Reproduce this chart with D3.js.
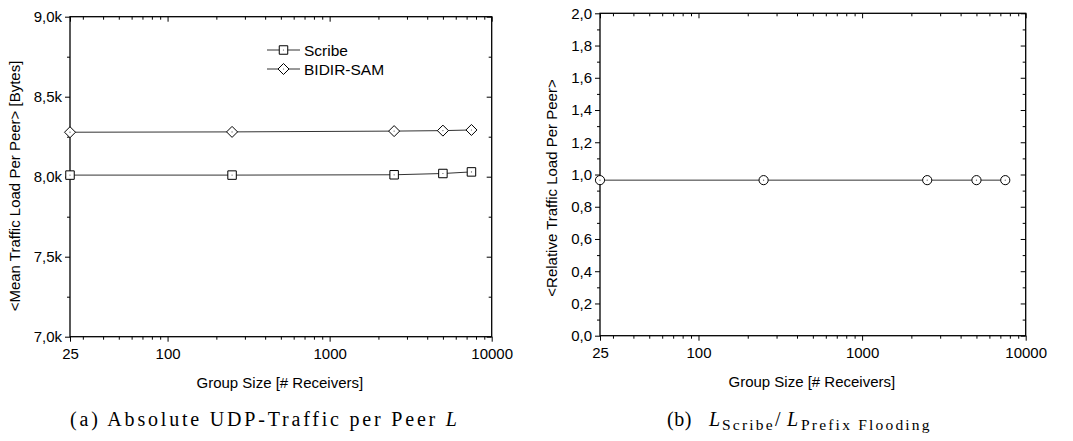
<!DOCTYPE html>
<html><head><meta charset="utf-8">
<script src="https://cdn.jsdelivr.net/npm/d3@7"></script>
<style>body{margin:0;background:#fff} svg{display:block}</style>
</head><body><svg id="c" width="1073" height="441"></svg>
<script>
// ---- data ----
const groupSizes = [25, 250, 2500, 5000, 7500];
const scribeLoad = [8010, 8010, 8012, 8020, 8030];
const bidirSamLoad = [8278, 8280, 8285, 8288, 8292];
const relativeLoad = [0.965, 0.965, 0.965, 0.965, 0.965];
const xMajorTicks = [25, 100, 1000, 10000];
const xMinorTicks = [30,40,50,60,70,80,90,200,300,400,500,600,700,800,900,2000,3000,4000,5000,6000,7000,8000,9000];
const leftYMajor = [7000, 7500, 8000, 8500, 9000];
const leftYMinor = [7250, 7750, 8250, 8750];
const rightYMajor = [0, 0.2, 0.4, 0.6, 0.8, 1.0, 1.2, 1.4, 1.6, 1.8, 2.0];
const rightYMinor = [0.1, 0.3, 0.5, 0.7, 0.9, 1.1, 1.3, 1.5, 1.7, 1.9];
const seriesNames = ["Scribe", "BIDIR-SAM"];

const svg = d3.select("#c");
const SANS = "'Liberation Sans', Arial, sans-serif";
const SERIF = "'Liberation Serif', 'DejaVu Serif', serif";
const LINE = "#333";

function symbolPath(kind) {
  if (kind === "square") return d3.symbol(d3.symbolSquare, 72)();
  if (kind === "diamond") return "M0,-5.5L5.5,0L0,5.5L-5.5,0Z";
  return d3.symbol(d3.symbolCircle, 66)();
}

function panel(cfg) {
  const g = svg.append("g");
  const x = d3.scaleLog().domain([25, 10000]).range([cfg.x0, cfg.x1]);
  const y = d3.scaleLinear().domain(cfg.yDomain).range([cfg.y0, cfg.y1]);

  const style = sel => {
    sel.select(".domain").remove();
    sel.selectAll("line").attr("stroke", "#000").attr("stroke-width", 1);
    sel.selectAll("text").attr("font-family", SANS).attr("font-size", 15).attr("fill", "#000");
  };
  // bottom
  g.append("g").attr("transform", `translate(0,${cfg.y0})`)
    .call(d3.axisBottom(x).tickValues(xMajorTicks).tickSize(5).tickPadding(7).tickFormat(d3.format("d"))).call(style);
  g.append("g").attr("transform", `translate(0,${cfg.y0})`)
    .call(d3.axisBottom(x).tickValues(xMinorTicks).tickSize(3).tickFormat("")).call(style);
  // top (inward)
  g.append("g").attr("transform", `translate(0,${cfg.y1})`)
    .call(d3.axisTop(x).tickValues(xMajorTicks).tickSize(-5).tickFormat("")).call(style);
  g.append("g").attr("transform", `translate(0,${cfg.y1})`)
    .call(d3.axisTop(x).tickValues(xMinorTicks).tickSize(-3).tickFormat("")).call(style);
  // left
  g.append("g").attr("transform", `translate(${cfg.x0},0)`)
    .call(d3.axisLeft(y).tickValues(cfg.yMajor).tickSize(5).tickPadding(3).tickFormat(cfg.fmt)).call(style);
  g.append("g").attr("transform", `translate(${cfg.x0},0)`)
    .call(d3.axisLeft(y).tickValues(cfg.yMinor).tickSize(3).tickFormat("")).call(style);
  // right (inward)
  g.append("g").attr("transform", `translate(${cfg.x1},0)`)
    .call(d3.axisRight(y).tickValues(cfg.yMajor).tickSize(-5).tickFormat("")).call(style);
  g.append("g").attr("transform", `translate(${cfg.x1},0)`)
    .call(d3.axisRight(y).tickValues(cfg.yMinor).tickSize(-3).tickFormat("")).call(style);

  // frame
  g.append("rect").attr("x", cfg.x0).attr("y", cfg.y1)
    .attr("width", cfg.x1 - cfg.x0).attr("height", cfg.y0 - cfg.y1)
    .attr("fill", "none").attr("stroke", "#000").attr("stroke-width", 1.3);

  // series
  cfg.series.forEach(s => {
    const pts = groupSizes.map((gs, i) => [gs, s.values[i]]);
    g.append("path").datum(pts)
      .attr("d", d3.line().x(d => x(d[0])).y(d => y(d[1])))
      .attr("fill", "none").attr("stroke", LINE).attr("stroke-width", 1);
    const m = g.selectAll(null).data(pts).enter().append("g")
      .attr("transform", d => `translate(${x(d[0])},${y(d[1])})`);
    m.append("path").attr("d", symbolPath(s.symbol))
      .attr("fill", "#fff").attr("stroke", "#000").attr("stroke-width", 1);
    m.append("circle").attr("r", 0.6).attr("fill", "#555");
  });

  // axis titles
  g.append("text").attr("x", (cfg.x0 + cfg.x1) / 2 - 1).attr("y", cfg.y0 + 51)
    .attr("text-anchor", "middle").attr("font-family", SANS).attr("font-size", 15)
    .text("Group Size [# Receivers]");
  g.append("text")
    .attr("transform", `translate(${cfg.ytx},${cfg.ytc}) rotate(-90)`)
    .attr("text-anchor", "middle").attr("font-family", SANS).attr("font-size", 15)
    .text(cfg.ytitle);
  return {g, x, y};
}

const left = panel({
  x0: 70, x1: 491.7, y0: 336.7, y1: 16.7, yDomain: [7000, 9000],
  yMajor: leftYMajor, yMinor: leftYMinor,
  fmt: v => (v / 1000).toFixed(1).replace(".", ",") + "k",
  ytx: 20, ytc: 186, ytitle: "<Mean Traffic Load Per Peer> [Bytes]",
  series: [
    {values: scribeLoad, symbol: "square"},
    {values: bidirSamLoad, symbol: "diamond"}
  ]
});

const right = panel({
  x0: 600, x1: 1025.7, y0: 335.7, y1: 13.3, yDomain: [0, 2],
  yMajor: rightYMajor, yMinor: rightYMinor,
  fmt: v => v.toFixed(1).replace(".", ","),
  ytx: 557, ytc: 188, ytitle: "<Relative Traffic Load Per Peer>",
  series: [
    {values: relativeLoad, symbol: "circle"}
  ]
});

// legend (left panel)
const lg = svg.append("g");
[["square", 50], ["diamond", 69]].forEach((d, i) => {
  lg.append("line").attr("x1", 267).attr("x2", 300).attr("y1", d[1]).attr("y2", d[1])
    .attr("stroke", LINE).attr("stroke-width", 1);
  lg.append("path").attr("transform", `translate(283.5,${d[1]})`).attr("d", symbolPath(d[0]))
    .attr("fill", "#fff").attr("stroke", "#000").attr("stroke-width", 1);
  lg.append("circle").attr("cx", 283.5).attr("cy", d[1]).attr("r", 0.6).attr("fill", "#555");
  lg.append("text").attr("x", 304).attr("y", d[1]).attr("dy", "0.36em")
    .attr("font-family", SANS).attr("font-size", 15.5).text(seriesNames[i]);
});

// captions
const capA = svg.append("text").attr("x", 70).attr("y", 426)
  .attr("font-family", SERIF).attr("font-size", 20)
  .attr("textLength", 387).attr("lengthAdjust", "spacing");
capA.append("tspan").text("(a)  Absolute UDP-Traffic per Peer ");
capA.append("tspan").attr("font-style", "italic").text("L");

const capParts = [
  {t: "(b)", x: 667, size: 20, dy: 0, italic: false, ls: 0.5},
  {t: "L", x: 709, size: 20, dy: 0, italic: true, ls: 0},
  {t: "Scribe", x: 722, size: 15.5, dy: 3.5, italic: false, ls: 2.2},
  {t: "/", x: 775, size: 20, dy: 0, italic: false, ls: 0},
  {t: "L", x: 787, size: 20, dy: 0, italic: true, ls: 0},
  {t: "Prefix Flooding", x: 801, size: 15.5, dy: 3.5, italic: false, ls: 2.2}
];
capParts.forEach(p => {
  svg.append("text").attr("x", p.x).attr("y", 426 + p.dy)
    .attr("font-family", SERIF).attr("font-size", p.size)
    .attr("letter-spacing", p.ls)
    .attr("font-style", p.italic ? "italic" : "normal").text(p.t);
});
</script>
</body></html>
